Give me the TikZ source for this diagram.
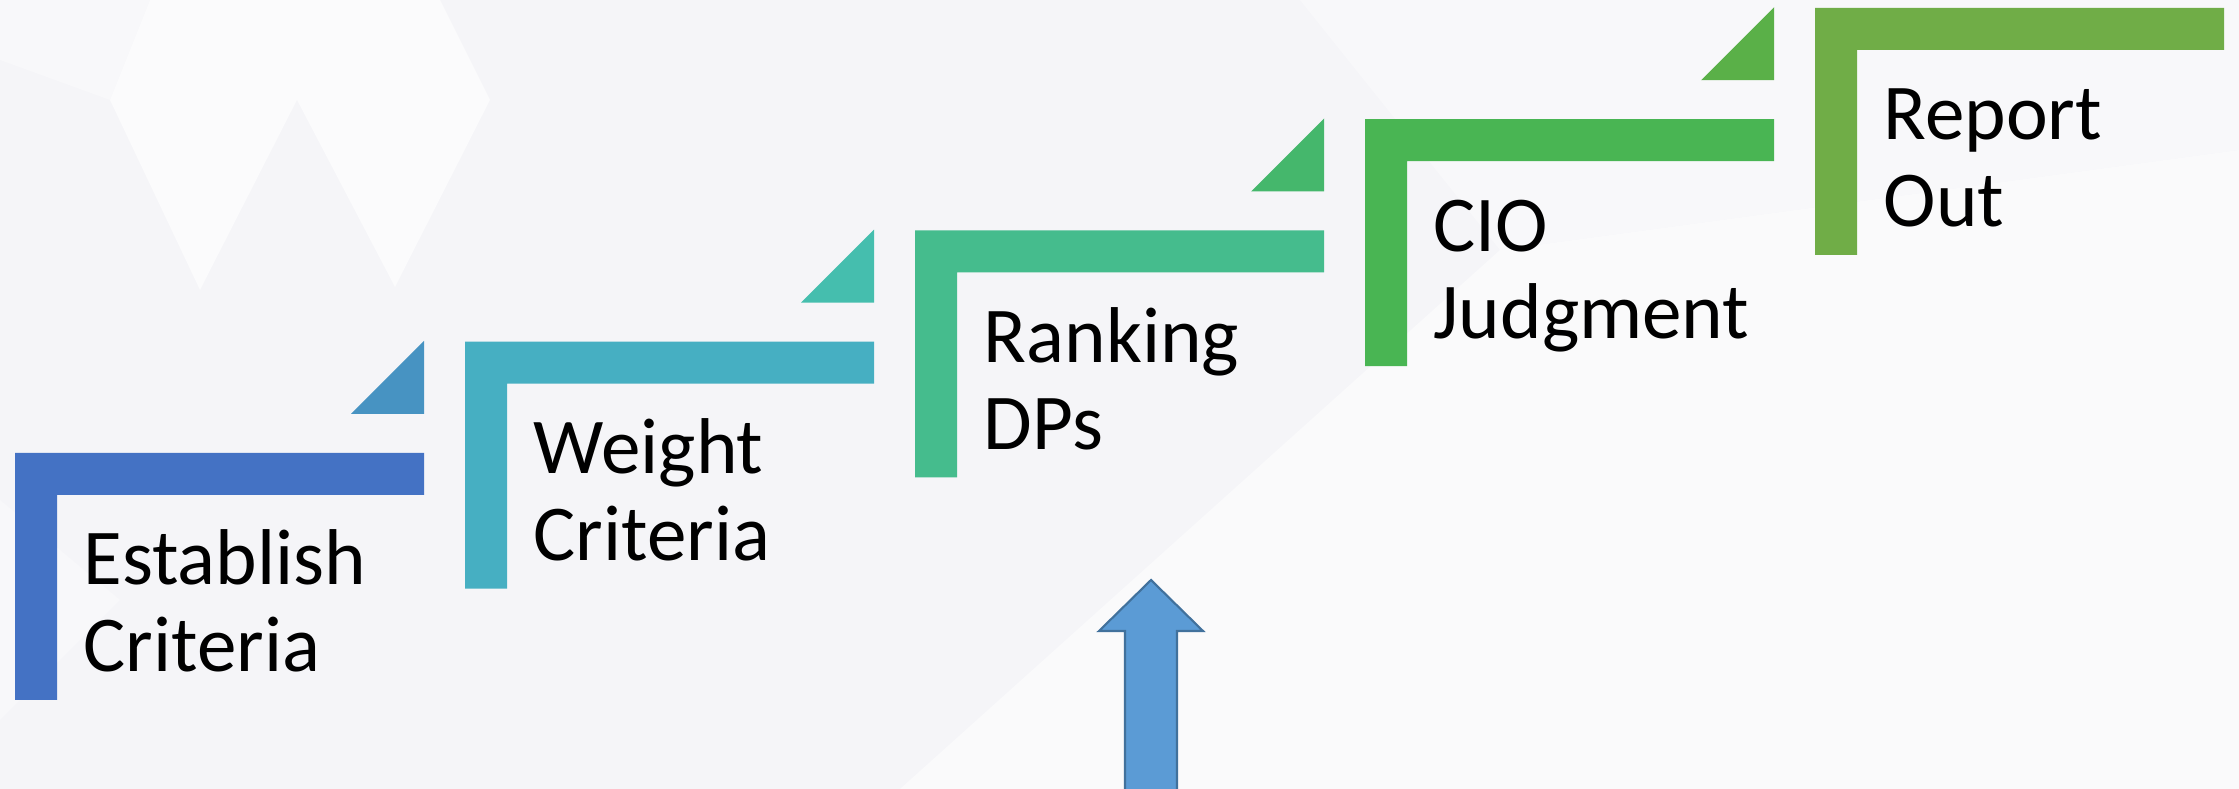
\documentclass[tikz,border=0pt]{standalone}
\usepackage{fontspec}
\setmainfont{Carlito}
\definecolor{bgc}{HTML}{F5F5F8}
\definecolor{cA}{HTML}{4472C4}
\definecolor{tA}{HTML}{4793C2}
\definecolor{cB}{HTML}{46AFC2}
\definecolor{tB}{HTML}{45BEAE}
\definecolor{cC}{HTML}{45BC8D}
\definecolor{tC}{HTML}{45B76C}
\definecolor{cD}{HTML}{49B553}
\definecolor{tD}{HTML}{5AB048}
\definecolor{cE}{HTML}{70AD47}
\definecolor{arrfill}{HTML}{5B9BD5}
\definecolor{arrline}{HTML}{41719C}
\tikzset{
  steplabel/.style={anchor=base west, inner sep=0pt, align=left,
    font=\fontsize{22.5}{24.8}\selectfont, text=black},
}
% bracket: #1 left, #2 top, #3 colour
\newcommand{\stairbracket}[3]{%
  \fill[#3] (#1,#2) -- ++(409,0) -- ++(0,42) -- ++(-367,0) -- ++(0,205) -- ++(-42,0) -- cycle;}
% triangle above right end: #1 right, #2 top of bracket, #3 colour
\newcommand{\stairtri}[3]{%
  \fill[#3] (#1-73,#2-39) -- (#1,#2-39) -- (#1,#2-112) -- cycle;}
\begin{document}
\begin{tikzpicture}[x=0.01cm,y=-0.01cm]
  \useasboundingbox (0,0) rectangle (2239,789);
  \fill[bgc] (0,0) rectangle (2239,789);
  % subtle background shapes
  \fill[white,opacity=0.5] (900,789) -- (1500,250) -- (2239,150) -- (2239,789) -- cycle;
  \fill[white,opacity=0.3] (1300,0) -- (2239,0) -- (2239,150) -- (1500,250) -- cycle;
  \fill[white,opacity=0.6] (150,0) -- (110,100) -- (200,290) -- (297,100) -- (395,287) -- (490,100) -- (440,0) -- cycle;
  \fill[white,opacity=0.3] (0,0) -- (150,0) -- (110,100) -- (0,60) -- cycle;
  \fill[white,opacity=0.3] (0,500) -- (120,600) -- (0,720) -- cycle;
  % brackets
  \stairbracket{15}{453}{cA}
  \stairbracket{465}{341.75}{cB}
  \stairbracket{915}{230.5}{cC}
  \stairbracket{1365}{119.25}{cD}
  \stairbracket{1815}{8}{cE}
  % triangles
  \stairtri{424}{453}{tA}
  \stairtri{874}{341.75}{tB}
  \stairtri{1324}{230.5}{tC}
  \stairtri{1774}{119.25}{tD}
  % labels (anchor = baseline of the second line)
  \node[steplabel] (s1) at (83,672) {Establish\\Criteria};
  \node[steplabel] (s2) at (533,560.75) {Weight\\Criteria};
  \node[steplabel] (s3) at (983,449.5) {Ranking\\DPs};
  \node[steplabel] (s4) at (1433,338.25) {CIO\\Judgment};
  \node[steplabel] (s5) at (1883,227) {Report\\Out};
  % up arrow
  \filldraw[fill=arrfill, draw=arrline, line width=0.6pt, line join=miter]
    (1151,580) -- (1203,631) -- (1177,631) -- (1177,792) -- (1125,792) -- (1125,631) -- (1099,631) -- cycle;
\end{tikzpicture}
\end{document}
